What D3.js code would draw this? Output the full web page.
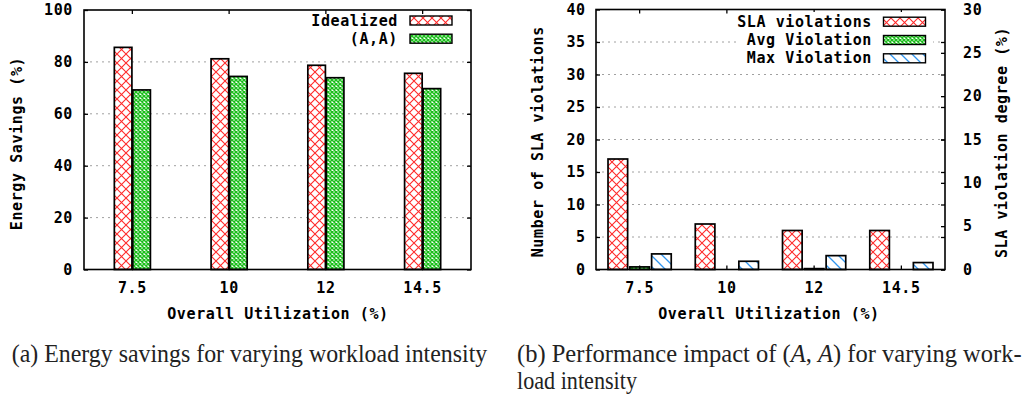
<!DOCTYPE html>
<html><head><meta charset="utf-8">
<script src="https://cdn.jsdelivr.net/npm/d3@7"></script>
<style>
body{margin:0;background:#fff;}
svg{display:block;}
.mono{font-family:"DejaVu Sans Mono",monospace;font-weight:bold;font-size:15px;letter-spacing:0.6px;fill:#000;}
.cap{font-family:"Liberation Serif","Times New Roman",serif;font-size:24.5px;fill:#222;}
</style>
</head><body>
<svg id="c" width="1032" height="400"></svg>
<script>
// ---- data ----
const categories = ["7.5", "10", "12", "14.5"];
const idealized = [85.6, 81.2, 78.7, 75.6];
const aaSavings = [69.2, 74.4, 73.9, 69.7];
const slaViolations = [17, 7, 6, 6];
const avgViolation = [0.3, 0, 0.1, 0];
const maxViolation = [1.8, 0.95, 1.6, 0.8];
const leftYTicks = [0, 20, 40, 60, 80, 100];
const rightYTicks = [0, 5, 10, 15, 20, 25, 30, 35, 40];
const rightY2Ticks = [0, 5, 10, 15, 20, 25, 30];
const leftSeries = ["Idealized", "(A,A)"];
const rightSeries = ["SLA violations", "Avg Violation", "Max Violation"];

const svg = d3.select("#c");
const defs = svg.append("defs");

// patterns
function crossPattern(id, size, color, sw, bg) {
  const p = defs.append("pattern").attr("id", id).attr("patternUnits", "userSpaceOnUse")
    .attr("width", size).attr("height", size);
  p.append("rect").attr("width", size).attr("height", size).attr("fill", bg);
  p.append("path").attr("d", `M0,0L${size},${size}M0,${size}L${size},0`)
    .attr("stroke", color).attr("stroke-width", sw).attr("fill", "none");
}
crossPattern("pRed", 9, "#ff2a2a", 1.1, "#fff");
crossPattern("pGreen", 4, "#1cbf1c", 1.5, "#fff");
{
  const s = 11;
  const p = defs.append("pattern").attr("id", "pBlue").attr("patternUnits", "userSpaceOnUse")
    .attr("width", s).attr("height", s);
  p.append("rect").attr("width", s).attr("height", s).attr("fill", "#fff");
  p.append("path").attr("d", `M0,0L${s},${s}M${-s},0L${s},${2*s}M0,${-s}L${2*s},${s}`)
    .attr("stroke", "#2f95f0").attr("stroke-width", 1.3).attr("fill", "none");
}

const tickLen = 4;

function frame(g, x0, x1, y0, y1) {
  g.append("rect").attr("x", x0).attr("y", y0).attr("width", x1 - x0).attr("height", y1 - y0)
    .attr("fill", "none").attr("stroke", "#000").attr("stroke-width", 1.6);
}

function styleAxis(sel) {
  sel.select(".domain").remove();
  sel.selectAll(".tick line").attr("stroke", "#000").attr("stroke-width", 1.3);
  sel.selectAll("text").attr("class", "mono").attr("fill", "#000");
}

// ================= LEFT CHART =================
{
  const x0 = 84, x1 = 471, yTop = 10, yBot = 269.5;
  const g = svg.append("g");
  const x = d3.scaleBand().domain(categories).range([x0, x1]);
  const y = d3.scaleLinear().domain([0, 100]).range([yBot, yTop]);
  const s = d3.scaleBand().domain(leftSeries).range([-18.5, 18.5]).paddingInner(0.05).paddingOuter(0.025);

  g.selectAll(".grid").data(leftYTicks.filter(v => v > 0 && v < 100)).join("line")
    .attr("x1", x0).attr("x2", x1).attr("y1", d => y(d)).attr("y2", d => y(d))
    .attr("stroke", "#a0a0a0").attr("stroke-width", 1).attr("stroke-dasharray", "2,4");

  const data = [idealized, aaSavings];
  const fills = ["url(#pRed)", "url(#pGreen)"];
  leftSeries.forEach((name, si) => {
    g.append("g").selectAll("rect").data(categories).join("rect")
      .attr("x", (c) => x(c) + x.bandwidth() / 2 + s(name))
      .attr("width", s.bandwidth())
      .attr("y", (c, i) => y(data[si][i]))
      .attr("height", (c, i) => yBot - y(data[si][i]))
      .attr("fill", fills[si]).attr("stroke", "#000").attr("stroke-width", 1.7);
  });

  frame(g, x0, x1, yTop, yBot);

  const ay = g.append("g").attr("transform", `translate(${x0},0)`)
    .call(d3.axisLeft(y).tickValues(leftYTicks).tickSizeInner(-tickLen).tickSizeOuter(0).tickPadding(11));
  styleAxis(ay);
  const ay2 = g.append("g").attr("transform", `translate(${x1},0)`)
    .call(d3.axisRight(y).tickValues(leftYTicks).tickSizeInner(-tickLen).tickSizeOuter(0).tickFormat(""));
  styleAxis(ay2);
  const ax = g.append("g").attr("transform", `translate(0,${yBot})`)
    .call(d3.axisBottom(x).tickSizeInner(-tickLen).tickSizeOuter(0).tickPadding(13));
  styleAxis(ax);
  const ax2 = g.append("g").attr("transform", `translate(0,${yTop})`)
    .call(d3.axisTop(x).tickSizeInner(-tickLen).tickSizeOuter(0).tickFormat(""));
  styleAxis(ax2);

  g.append("text").attr("class", "mono").attr("x", (x0 + x1) / 2 + 0.5).attr("y", 313.5)
    .attr("text-anchor", "middle").attr("dominant-baseline", "central").text("Overall Utilization (%)");
  g.append("text").attr("class", "mono").attr("transform", "translate(17,143.5) rotate(-90)")
    .attr("text-anchor", "middle").attr("dominant-baseline", "central").text("Energy Savings (%)");

  leftSeries.forEach((name, i) => {
    const cy = 20.5 + i * 18.2;
    g.append("text").attr("class", "mono").attr("x", 398).attr("y", cy)
      .attr("text-anchor", "end").attr("dominant-baseline", "central").text(name);
    g.append("rect").attr("x", 410).attr("y", cy - 4.5).attr("width", 42).attr("height", 9)
      .attr("fill", fills[i]).attr("stroke", "#000").attr("stroke-width", 1.4);
  });
}

// ================= RIGHT CHART =================
{
  const x0 = 596, x1 = 945, yTop = 9.5, yBot = 269.5;
  const g = svg.append("g");
  const x = d3.scaleBand().domain(categories).range([x0, x1]);
  const y = d3.scaleLinear().domain([0, 40]).range([yBot, yTop]);
  const y2 = d3.scaleLinear().domain([0, 30]).range([yBot, yTop]);
  const s = d3.scaleBand().domain(rightSeries).range([-32.7, 32.7]).paddingInner(0.1).paddingOuter(0.05);

  g.selectAll(".grid").data(rightYTicks.filter(v => v > 0 && v < 40)).join("line")
    .attr("x1", x0).attr("x2", x1).attr("y1", d => y(d)).attr("y2", d => y(d))
    .attr("stroke", "#a0a0a0").attr("stroke-width", 1).attr("stroke-dasharray", "2,4");

  const data = [slaViolations, avgViolation, maxViolation];
  const scales = [y, y2, y2];
  const fills = ["url(#pRed)", "url(#pGreen)", "url(#pBlue)"];
  rightSeries.forEach((name, si) => {
    const sc = scales[si];
    g.append("g").selectAll("rect").data(categories).join("rect")
      .attr("x", (c) => x(c) + x.bandwidth() / 2 + s(name))
      .attr("width", s.bandwidth())
      .attr("y", (c, i) => sc(data[si][i]))
      .attr("height", (c, i) => yBot - sc(data[si][i]))
      .attr("fill", fills[si]).attr("stroke", "#000").attr("stroke-width", 1.7);
  });

  frame(g, x0, x1, yTop, yBot);

  const ay = g.append("g").attr("transform", `translate(${x0},0)`)
    .call(d3.axisLeft(y).tickValues(rightYTicks).tickSizeInner(-tickLen).tickSizeOuter(0).tickPadding(10.3));
  styleAxis(ay);
  const ayM = g.append("g").attr("transform", `translate(${x1},0)`)
    .call(d3.axisRight(y).tickValues(rightYTicks).tickSizeInner(-tickLen).tickSizeOuter(0).tickFormat(""));
  styleAxis(ayM);
  const ay2 = g.append("g").attr("transform", `translate(${x1},0)`)
    .call(d3.axisRight(y2).tickValues(rightY2Ticks).tickSizeInner(-tickLen).tickSizeOuter(0).tickPadding(18));
  styleAxis(ay2);
  const ax = g.append("g").attr("transform", `translate(0,${yBot})`)
    .call(d3.axisBottom(x).tickSizeInner(-tickLen).tickSizeOuter(0).tickPadding(13));
  styleAxis(ax);
  const ax2 = g.append("g").attr("transform", `translate(0,${yTop})`)
    .call(d3.axisTop(x).tickSizeInner(-tickLen).tickSizeOuter(0).tickFormat(""));
  styleAxis(ax2);

  g.append("text").attr("class", "mono").attr("x", (x0 + x1) / 2 - 1.5).attr("y", 313.5)
    .attr("text-anchor", "middle").attr("dominant-baseline", "central").text("Overall Utilization (%)");
  g.append("text").attr("class", "mono").attr("transform", "translate(538,141.7) rotate(-90)")
    .attr("text-anchor", "middle").attr("dominant-baseline", "central").text("Number of SLA violations");
  g.append("text").attr("class", "mono").attr("transform", "translate(1002,142.5) rotate(-90)")
    .attr("text-anchor", "middle").attr("dominant-baseline", "central").text("SLA violation degree (%)");

  g.append("rect").attr("x", 737).attr("y", 12).attr("width", 196).attr("height", 56).attr("fill", "#fff");
  rightSeries.forEach((name, i) => {
    const cy = 21.7 + i * 18.3;
    g.append("text").attr("class", "mono").attr("x", 872).attr("y", cy)
      .attr("text-anchor", "end").attr("dominant-baseline", "central").text(name);
    g.append("rect").attr("x", 883.5).attr("y", cy - 4.5).attr("width", 42).attr("height", 9)
      .attr("fill", fills[i]).attr("stroke", "#000").attr("stroke-width", 1.4);
  });
}

// ================= CAPTIONS =================
svg.append("text").attr("class", "cap").attr("x", 11.7).attr("y", 361.5)
  .attr("textLength", 475.6).attr("lengthAdjust", "spacingAndGlyphs")
  .text("(a) Energy savings for varying workload intensity");
{
  const t = svg.append("text").attr("class", "cap").attr("x", 517).attr("y", 361.5)
    .attr("textLength", 504.7).attr("lengthAdjust", "spacingAndGlyphs");
  t.append("tspan").text("(b) Performance impact of (");
  t.append("tspan").attr("font-style", "italic").text("A");
  t.append("tspan").text(", ");
  t.append("tspan").attr("font-style", "italic").text("A");
  t.append("tspan").text(") for varying work-");
}
svg.append("text").attr("class", "cap").attr("x", 517).attr("y", 388.5)
  .attr("textLength", 120).attr("lengthAdjust", "spacingAndGlyphs")
  .text("load intensity");
</script>
</body></html>
